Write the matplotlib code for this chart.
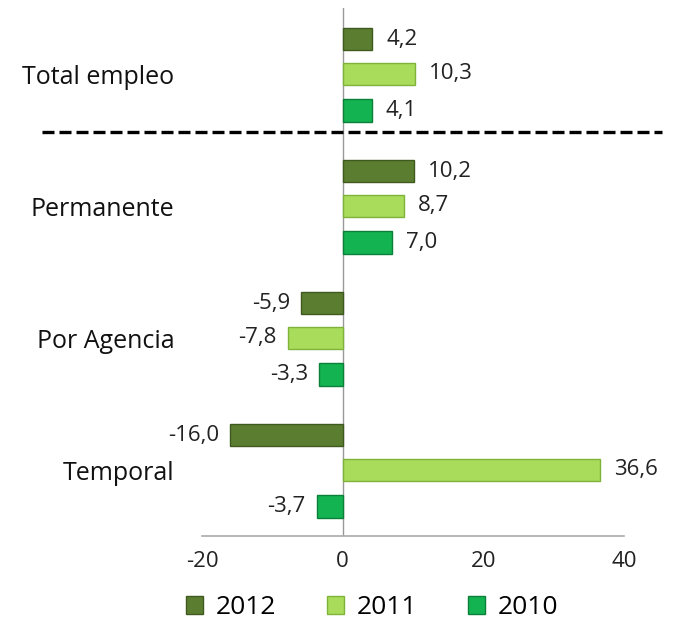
import matplotlib
matplotlib.use("Agg")
import matplotlib.pyplot as plt
import numpy as np
from matplotlib.lines import Line2D
from matplotlib.patches import Patch

categories = ["Total empleo", "Permanente", "Por Agencia", "Temporal"]
series_names = ["2012", "2011", "2010"]
v2012 = [4.2, 10.2, -5.9, -16.0]
v2011 = [10.3, 8.7, -7.8, 36.6]
v2010 = [4.1, 7.0, -3.3, -3.7]
xticks = [-20, 0, 20, 40]

colors = ["#5b7d30", "#a8dc5a", "#12b350"]
edges = ["#3f5a1e", "#7fb33a", "#0a8038"]

plt.rcParams['font.family'] = ['Open Sans', 'DejaVu Sans']

fig = plt.figure(figsize=(6.76, 6.24), dpi=100)
ax = fig.add_axes([202/676, 1-536/624, (624-202)/676, (536-8)/624])

y = np.arange(len(categories))
offsets = [-0.265, 0.0, 0.275]
h = 0.17
for vals, off, c, ec in zip([v2012, v2011, v2010], offsets, colors, edges):
    bars = ax.barh(y + off, vals, height=h, color=c, edgecolor=ec, linewidth=1.0, zorder=3)
    for b, v in zip(bars, vals):
        lbl = f"{v:.1f}".replace(".", ",")
        if v >= 0:
            ax.annotate(lbl, (v, b.get_y() + h/2), xytext=(10, 0), textcoords="offset points",
                        ha="left", va="center", fontsize=16, color="#222222")
        else:
            ax.annotate(lbl, (v, b.get_y() + h/2), xytext=(-8, 0), textcoords="offset points",
                        ha="right", va="center", fontsize=16, color="#222222")

ax.set_ylim(3.5, -0.5)
ax.set_xlim(-20, 40)
ax.set_xticks(xticks)
ax.set_xticklabels([str(t) for t in xticks], fontsize=16, color="#222222")
ax.set_yticks(y)
ax.set_yticklabels(categories, fontsize=18, color="#111111")
ax.tick_params(axis="y", length=0, pad=20)
ax.tick_params(axis="x", length=0, pad=11)
for s in ["top", "right", "left"]:
    ax.spines[s].set_visible(False)
ax.spines["bottom"].set_color("#aaaaaa")
ax.spines["bottom"].set_linewidth(1.2)
ax.axvline(0, color="#999999", linewidth=1.0, zorder=2)

yd = 1 - 132/624
fig.add_artist(Line2D([42/676, 662/676], [yd, yd], color="black", linewidth=2.4,
                      dashes=(3.6, 1.5)))

handles = [Patch(facecolor=c, edgecolor=ec) for c, ec in zip(colors, edges)]
fig.legend(handles, series_names, loc="center", bbox_to_anchor=(372/676, 1-608/624),
           ncol=3, frameon=False, fontsize=19, handlelength=0.65, handleheight=0.65,
           columnspacing=1.9, handletextpad=0.5)

fig.savefig("out.png", dpi=100)
